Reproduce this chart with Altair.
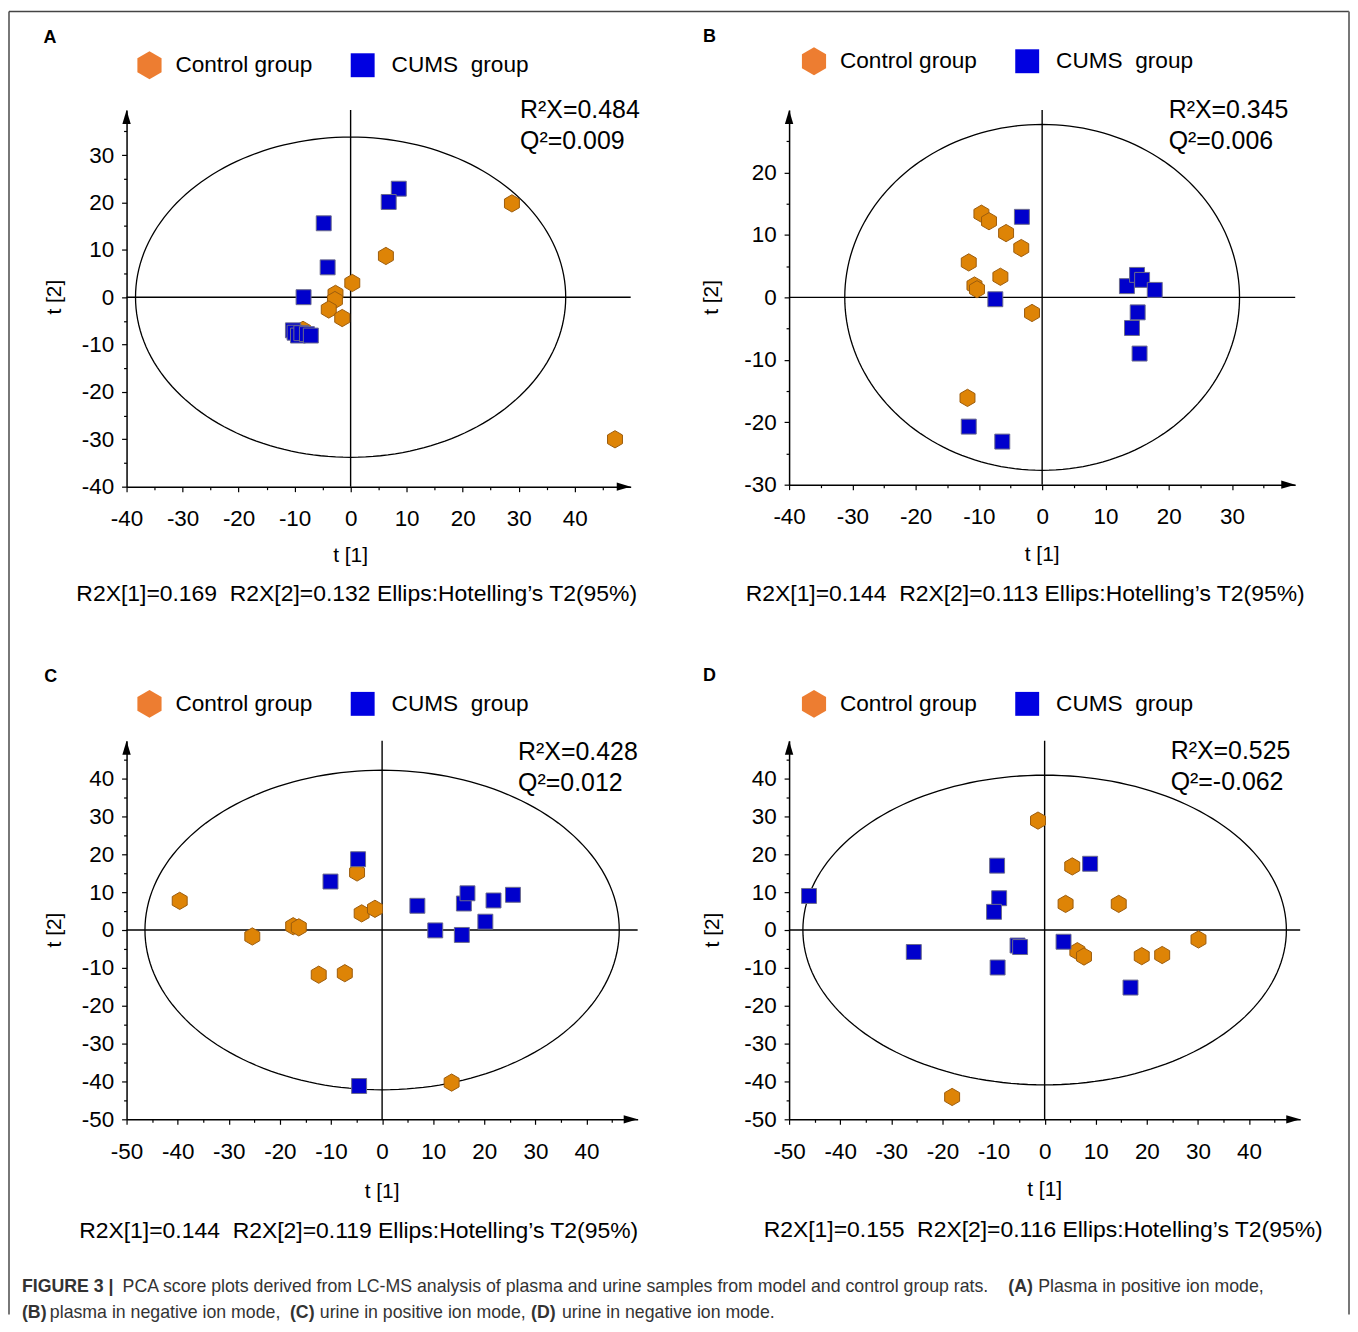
import math
import altair as alt
import pandas as pd

FONT = "Liberation Sans"
ORANGE = "#DE8406"
ORANGE_EDGE = "#9C5C0E"
BLUE = "#0000CC"
BLUE_EDGE = "#6B6B8C"
LEG_ORANGE = "#ED7D31"
LEG_BLUE = "#0000E1"

# ---------------- data ----------------
A_ctrl_x = [28.8, 6.3, 0.3, -2.7, -2.8, -3.9, -1.5, 47.2, -8.5]
A_ctrl_y = [19.8, 8.7, 3.0, 0.7, -0.6, -2.6, -4.4, -30.0, -6.9]
A_cums_x = [8.6, 6.8, -4.8, -4.1, -8.4, -10.3, -10.0, -9.4, -8.8, -7.8, -7.1]
A_cums_y = [22.9, 20.1, 15.6, 6.3, 0.0, -7.0, -7.5, -8.1, -7.6, -7.8, -8.1]

B_ctrl_x = [-9.6, -8.4, -5.7, -3.3, -11.6, -6.6, -10.7, -10.3, -1.6, -11.8]
B_ctrl_y = [13.4, 12.2, 10.3, 7.9, 5.6, 3.3, 1.9, 1.3, -2.5, -16.1]
B_cums_x = [-3.2, -7.4, 13.4, 15.0, 15.8, 17.8, 15.1, 14.2, 15.4, -11.6, -6.3]
B_cums_y = [12.9, -0.3, 1.8, 3.6, 2.8, 1.2, -2.4, -4.9, -9.0, -20.7, -23.1]

C_ctrl_x = [-39.6, -25.4, -17.4, -16.3, -12.4, -7.3, -4.9, -4.0, -1.4, 13.6]
C_ctrl_y = [7.7, -1.7, 1.0, 0.7, -11.8, -11.4, 15.2, 4.4, 5.6, -40.3]
C_cums_x = [-4.7, -10.1, 6.9, 10.4, 15.6, 16.0, 16.7, 21.8, 20.2, 25.6, -4.5]
C_cums_y = [18.7, 12.8, 6.4, -0.1, -1.3, 7.0, 9.7, 7.8, 2.2, 9.3, -41.2]

D_ctrl_x = [-1.3, 5.4, 4.1, 14.5, 6.4, 7.7, 19.0, 23.0, 30.1, -18.1]
D_ctrl_y = [28.9, 16.8, 6.9, 6.9, -5.6, -7.0, -6.9, -6.6, -2.5, -44.1]
D_cums_x = [-46.1, -9.3, 8.9, -8.9, -9.9, -5.3, -4.8, 3.7, -25.6, -9.2, 16.8]
D_cums_y = [9.0, 17.0, 17.5, 8.4, 4.8, -4.1, -4.5, -3.1, -5.8, -9.9, -15.2]

# Hotelling T2 ellipse semi-axes (t[1], t[2])
ELL_A = (38.4, 33.8)
ELL_B = (31.2, 27.7)
ELL_C = (46.4, 42.2)
ELL_D = (47.3, 40.9)

R2X = ["0.484", "0.345", "0.428", "0.525"]
Q2 = ["0.009", "0.006", "0.012", "-0.062"]
R2X1 = ["0.169", "0.144", "0.144", "0.155"]
R2X2 = ["0.132", "0.113", "0.119", "0.116"]
LETTERS = ["A", "B", "C", "D"]

CAPTION_1 = [("FIGURE 3 |", True),
             ("PCA score plots derived from LC-MS analysis of plasma and urine samples from model and control group rats.", False),
             ("(A)", True), ("Plasma in positive ion mode,", False)]
CAPTION_2 = [("(B)", True), ("plasma in negative ion mode,", False), ("(C)", True),
             ("urine in positive ion mode,", False), ("(D)", True), ("urine in negative ion mode.", False)]

# ---------------- layout ----------------
HEX = "M0,-1L0.866,-0.5L0.866,0.5L0,1L-0.866,0.5L-0.866,-0.5Z"
UP = "M0,0L0.6,2L-0.6,2Z"
RIGHT = "M0,0L-2,-0.6L-2,0.6Z"
CAP1_X = [-105, -4, 885, 915]
CAP2_X = [-105, -77, 164, 194, 406, 437]
CAP_SIZE = 17.8


def one(**kw):
    return pd.DataFrame({k: [v] for k, v in kw.items()})


def panel(i, cx, cy, bx, by, ell, xdom, ydom, w, h, lay, extra=None):
    major = "datum.value % 10 === 0"
    ax_common = dict(title=None, grid=False, domainColor="black", domainWidth=1.5,
                     tickColor="black", tickWidth=1.2, labelFont=FONT, labelFontSize=22.5,
                     labelColor="black", labelOverlap=False, labelFlush=False,
                     labelExpr=f"{major} ? '' + datum.value : ''",
                     tickSize={"condition": {"test": major, "value": 5}, "value": 3})
    xaxis = alt.Axis(values=list(range(int(xdom[0]), int(math.ceil(xdom[1])), 5)), orient="bottom",
                     labelPadding=16, **ax_common)
    yaxis = alt.Axis(values=list(range(int(ydom[0]), int(math.ceil(ydom[1])), 5)), orient="left",
                     labelPadding=8, **ax_common)
    X = alt.X("x:Q", scale=alt.Scale(domain=list(xdom), nice=False, zero=False), axis=xaxis)
    Y = alt.Y("y:Q", scale=alt.Scale(domain=list(ydom), nice=False, zero=False), axis=yaxis)

    layers = []
    # ellipse
    a, b = ell
    layers.append(
        alt.Chart(alt.sequence(0, 362, 2, as_="deg"))
        .transform_calculate(x=f"{a}*cos(datum.deg*PI/180)", y=f"{b}*sin(datum.deg*PI/180)")
        .mark_line(color="black", strokeWidth=1.3)
        .encode(x=X, y=Y, order="deg:Q")
    )
    # crosshair
    layers.append(alt.Chart(one(x=0)).mark_rule(color="black", strokeWidth=1.4).encode(x=X))
    layers.append(alt.Chart(one(y=0)).mark_rule(color="black", strokeWidth=1.4).encode(y=Y))
    # points
    layers.append(
        alt.Chart(pd.DataFrame({"x": cx, "y": cy}))
        .mark_point(shape=HEX, size=300, filled=True, fill=ORANGE, stroke=ORANGE_EDGE,
                    strokeWidth=1, opacity=1)
        .encode(x=X, y=Y)
    )
    layers.append(
        alt.Chart(pd.DataFrame({"x": bx, "y": by}))
        .mark_point(shape="square", size=225, filled=True, fill=BLUE, stroke=BLUE_EDGE,
                    strokeWidth=1, opacity=1)
        .encode(x=X, y=Y)
    )
    # axis arrows
    layers.append(alt.Chart(one(x=xdom[0], y=ydom[1])).mark_point(
        shape=UP, size=196, filled=True, fill="black", opacity=1, strokeWidth=0).encode(x=X, y=Y))
    layers.append(alt.Chart(one(x=xdom[1], y=ydom[0])).mark_point(
        shape=RIGHT, size=196, filled=True, fill="black", opacity=1, strokeWidth=0).encode(x=X, y=Y))

    # axis titles at the origin
    layers.append(alt.Chart(one(x=0)).mark_text(font=FONT, fontSize=21, color="black",
                                                 align="center", baseline="middle")
                  .encode(x=X, y=alt.value(lay["t1y"]), text=alt.value("t [1]")))
    layers.append(alt.Chart(one(y=0)).mark_text(font=FONT, fontSize=21, color="black",
                                                 align="center", baseline="middle", angle=270)
                  .encode(y=Y, x=alt.value(lay["t2x"]), text=alt.value("t [2]")))

    def txt(t, x, y, size, align="left", weight="normal", color="black"):
        return alt.Chart(one(t=t)).mark_text(font=FONT, fontSize=size, color=color, align=align,
                                             baseline="middle", fontWeight=weight).encode(
            x=alt.value(x), y=alt.value(y), text="t:N")

    lx, ly = lay["leg"]
    layers.append(alt.Chart(one(k=0)).mark_point(shape=HEX, size=784, filled=True, fill=LEG_ORANGE,
                                                 opacity=1, strokeWidth=0)
                  .encode(x=alt.value(lx), y=alt.value(ly)))
    layers.append(txt("Control group", lx + 26, ly, 22.7))
    layers.append(alt.Chart(one(k=0)).mark_point(shape="square", size=576, filled=True, fill=LEG_BLUE,
                                                 opacity=1, strokeWidth=0)
                  .encode(x=alt.value(lx + 214), y=alt.value(ly)))
    layers.append(txt("CUMS\u00a0 group", lx + 243, ly, 22.7))

    layers.append(txt(LETTERS[i], lay["let"][0], lay["let"][1], 18, align="center", weight="bold"))
    rx, ry = lay["r2"]
    layers.append(txt(f"R\u00b2X={R2X[i]}", rx, ry, 25))
    layers.append(txt(f"Q\u00b2={Q2[i]}", rx, ry + 31, 25))
    fx, fy = lay["foot"]
    layers.append(txt(f"R2X[1]={R2X1[i]}\u00a0 R2X[2]={R2X2[i]} Ellips:Hotelling\u2019s T2(95%)",
                      fx, fy, 23, align="center"))
    if extra:
        layers.extend(extra(txt))
    return alt.layer(*layers).properties(width=w, height=h)


def border(txt):
    out = []
    out.append(alt.Chart(one(k=0)).mark_rule(color="#777777", strokeWidth=2).encode(
        x=alt.value(-118), y=alt.value(-99), y2=alt.value(1209)))
    out.append(alt.Chart(one(k=0)).mark_rule(color="#444444", strokeWidth=1.5).encode(
        x=alt.value(-118), x2=alt.value(1227), y=alt.value(-99)))
    out.append(alt.Chart(one(k=0)).mark_rule(color="#777777", strokeWidth=2).encode(
        x=alt.value(1227), y=alt.value(-99), y2=alt.value(1209)))
    return out


def caption(txt):
    out = []
    for (t, bold), x in zip(CAPTION_1, CAP1_X):
        out.append(txt(t, x, 548, CAP_SIZE, weight="bold" if bold else "normal", color="#333333"))
    for (t, bold), x in zip(CAPTION_2, CAP2_X):
        out.append(txt(t, x, 574, CAP_SIZE, weight="bold" if bold else "normal", color="#333333"))
    return out


pA = panel(0, A_ctrl_x, A_ctrl_y, A_cums_x, A_cums_y, ELL_A, (-40, 50), (-40, 39.5), 506, 378,
           dict(t1y=448, t2x=-72, leg=(23, -45), let=(-77, -72), r2=(395, 0), foot=(231, 486)),
           extra=border)
pB = panel(1, B_ctrl_x, B_ctrl_y, B_cums_x, B_cums_y, ELL_B, (-40, 40), (-30, 30), 508, 376,
           dict(t1y=447, t2x=-77, leg=(25, -49), let=(-80, -73), r2=(381, 0), foot=(237, 486)))
pC = panel(2, C_ctrl_x, C_ctrl_y, C_cums_x, C_cums_y, ELL_C, (-50, 50), (-50, 50), 513, 380,
           dict(t1y=453, t2x=-72, leg=(23, -37), let=(-76, -64), r2=(393, 11), foot=(233, 492)),
           extra=caption)
pD = panel(3, D_ctrl_x, D_ctrl_y, D_cums_x, D_cums_y, ELL_D, (-50, 50), (-50, 50), 513, 380,
           dict(t1y=451, t2x=-76, leg=(25, -37), let=(-80, -65), r2=(383, 10), foot=(255, 491)))

chart = (
    alt.concat(pA, pB, pC, pD, columns=2, spacing={"row": 255, "column": 152}, bounds="flush")
    .properties(padding=0)
    .configure_view(strokeWidth=0)
)

chart.save("out.html", embed_options={"renderer": "svg", "actions": False})
